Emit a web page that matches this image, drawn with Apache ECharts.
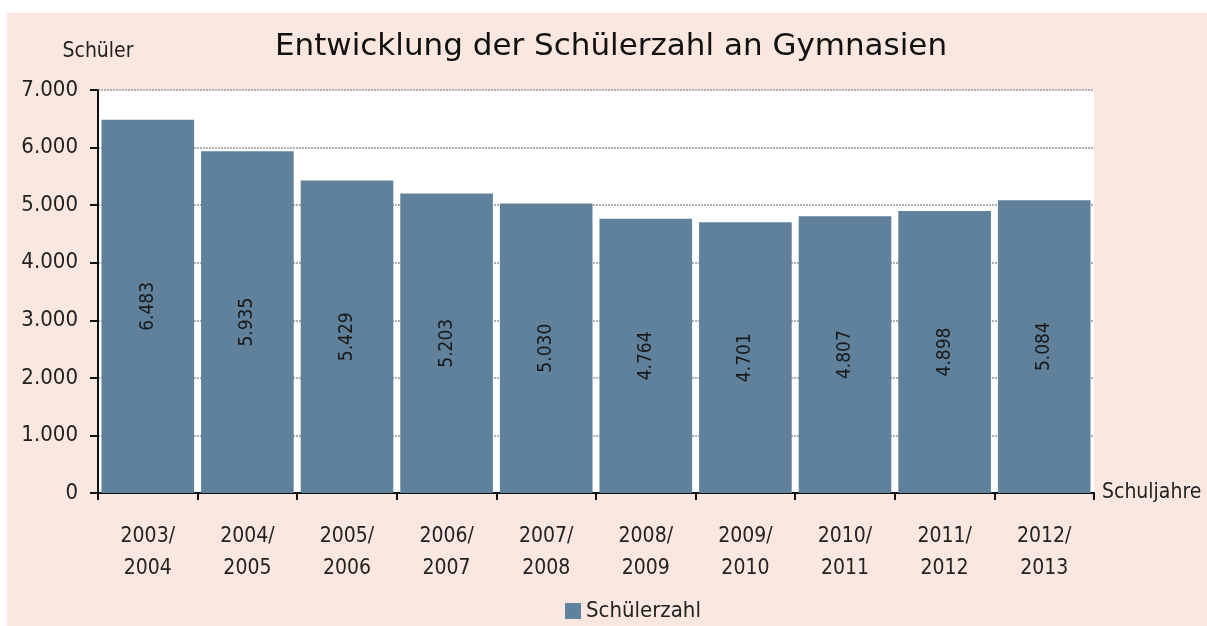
<!DOCTYPE html>
<html><head><meta charset="utf-8">
<script src="https://cdn.jsdelivr.net/npm/echarts@6/dist/echarts.min.js"></script>
<style>html,body{margin:0;padding:0;background:#fff}#c{width:1207px;height:626px}</style>
</head><body><div id="c"></div>
<script>
const categories = ['2003/\n2004','2004/\n2005','2005/\n2006','2006/\n2007','2007/\n2008','2008/\n2009','2009/\n2010','2010/\n2011','2011/\n2012','2012/\n2013'];
const values = [6483, 5935, 5429, 5203, 5030, 4764, 4701, 4807, 4898, 5084];
const seriesName = 'Schülerzahl';
const titleText = 'Entwicklung der Schülerzahl an Gymnasien';

const NARROW = '"Liberation Sans Narrow","DejaVu Sans Condensed","Roboto Condensed",sans-serif';
const fmt = v => String(v).replace(/\B(?=(\d{3})+(?!\d))/g, '.');
const chart = echarts.init(document.getElementById('c'));
chart.setOption({
  backgroundColor: '#ffffff',
  animation: false,
  graphic: [{ type: 'rect', z: -10, silent: true, shape: { x: 7, y: 13, width: 1200, height: 613 }, style: { fill: '#f9e7e0' } }],
  title: { text: titleText, left: 606, top: 26, textAlign: 'center',
    textStyle: { fontFamily: '"DejaVu Sans",sans-serif', fontSize: 31, fontWeight: 'normal', color: '#111' } },
  legend: { bottom: -1, left: 560, itemWidth: 16, itemHeight: 16, icon: 'rect', itemGap: 6,
    textStyle: { fontFamily: NARROW, fontSize: 22, color: '#222' }, data: [seriesName] },
  grid: { left: 98, right: 113, top: 90, bottom: 133, show: true, backgroundColor: '#ffffff', borderWidth: 0 },
  xAxis: { type: 'category', data: categories, name: 'Schuljahre', nameLocation: 'end', nameGap: 8,
    nameTextStyle: { fontFamily: NARROW, fontSize: 21, color: '#222', verticalAlign: 'middle', padding: [0,0,-4,0] },
    axisLine: { lineStyle: { color: '#111', width: 2 } },
    axisTick: { show: true, length: 7, lineStyle: { color: '#111', width: 2 } },
    axisLabel: { fontFamily: NARROW, fontSize: 21, color: '#222', lineHeight: 32, margin: 28 } },
  yAxis: { type: 'value', min: 0, max: 7000, interval: 1000, name: 'Schüler', nameLocation: 'end', nameGap: 28,
    nameTextStyle: { fontFamily: NARROW, fontSize: 21, color: '#222', align: 'center', padding: [0, 0, 0, 0] },
    axisLine: { show: true, lineStyle: { color: '#111', width: 2 } },
    axisTick: { show: true, length: 8, lineStyle: { color: '#111', width: 2 } },
    splitLine: { lineStyle: { color: '#b0b0b0', type: [2, 1], width: 2 } },
    axisLabel: { fontFamily: NARROW, fontSize: 22, color: '#222', margin: 20, formatter: fmt } },
  series: [{ name: seriesName, type: 'bar', data: values, barCategoryGap: '7%',
    itemStyle: { color: '#5f819b' },
    label: { show: true, position: 'inside', rotate: 90, fontFamily: NARROW, fontSize: 19, color: '#1a1a1a',
      formatter: p => fmt(p.value) } }]
});
</script></body></html>
